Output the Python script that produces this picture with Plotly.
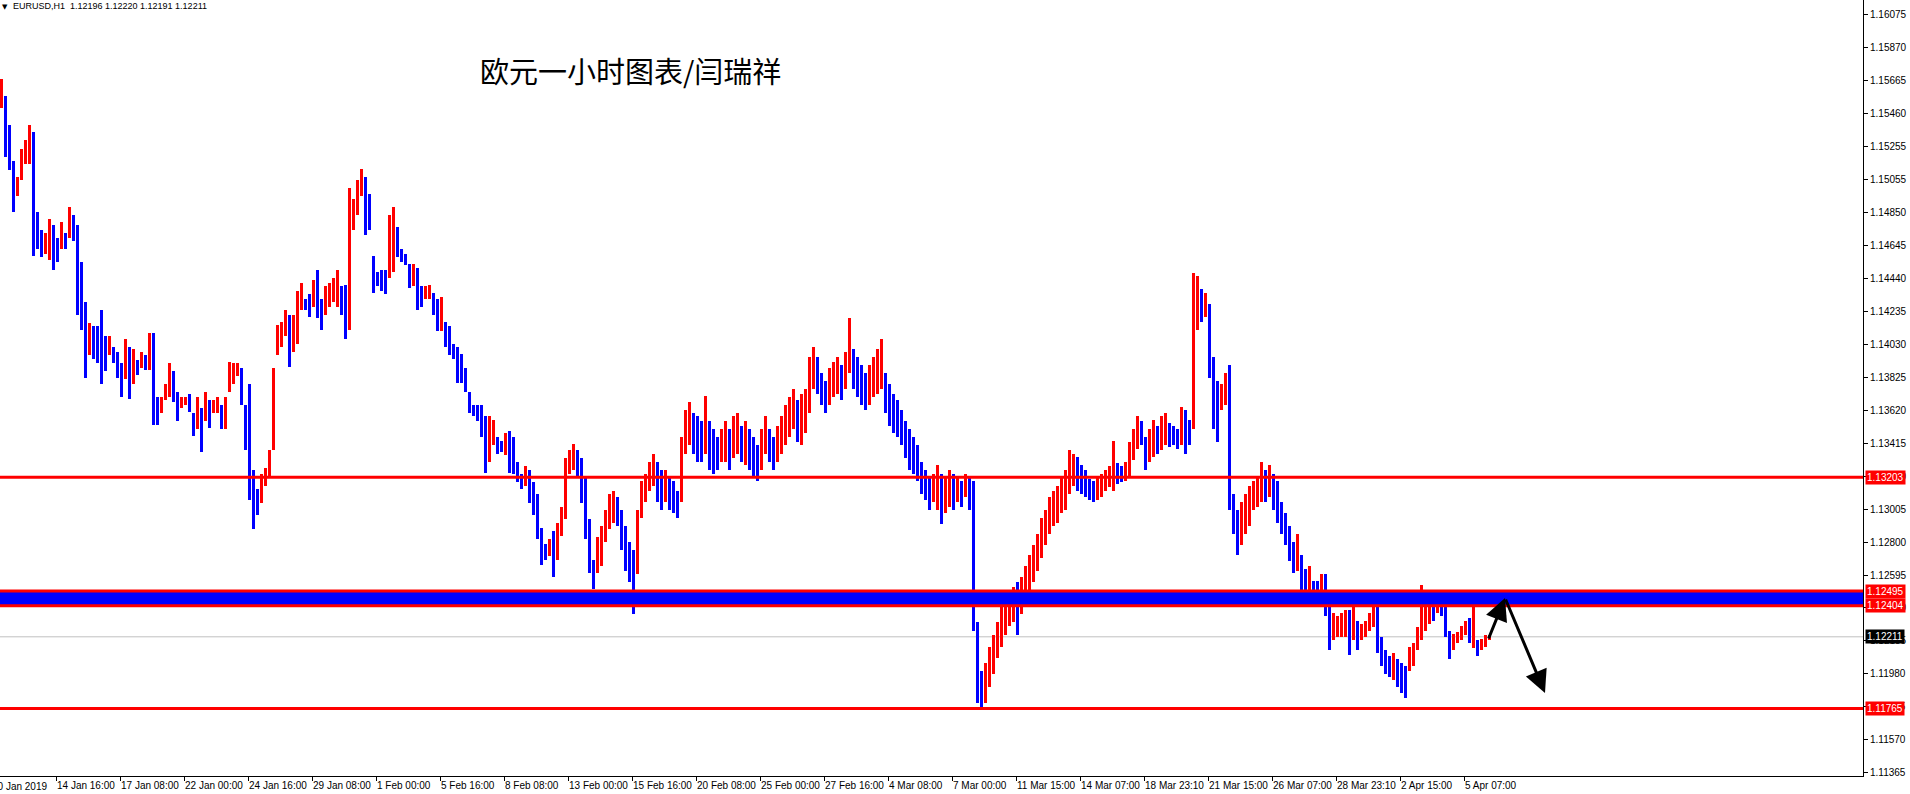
import plotly.graph_objects as go

# ---------------- data ----------------
symbol_header = "EURUSD,H1  1.12196 1.12220 1.12191 1.12211"
title_text = "欧元一小时图表/闫瑞祥"

# 4-hour groups of the H1 bars: highs and lows
highs = [
 1.1568,1.1557,1.1539,1.1517,1.1507,1.1524,1.1530,1.1539,1.1535,1.1485,
 1.1474,1.1472,1.1481,1.1477,1.1469,1.1479,1.1472,1.1488,1.1483,1.1477,
 1.1454,1.1429,1.1416,1.1414,1.1414,1.1424,1.1408,1.1408,1.1401,1.1398,
 1.1391,1.1406,1.1401,1.1400,1.1393,1.1398,1.1396,1.1410,1.1410,1.1370,
 1.1370,1.1378,1.1391,1.1386,1.1373,1.1370,1.1370,1.1372,1.1360,1.1370,
 1.1363,1.1373,1.1368,1.1368,1.1370,1.1365,1.1370,1.1392,1.1391,1.1391,
 1.1388,1.1365,1.1378,1.1325,1.1313,1.1322,1.1326,1.1337,1.1388,1.1415,
 1.1417,1.1424,1.1421,1.1421,1.1436,1.1441,1.1431,1.1434,1.1443,1.1449,
 1.1431,1.1439,1.1441,1.1444,1.1449,1.1439,1.1440,1.1500,1.1493,1.1505,
 1.1512,1.1507,1.1496,1.1458,1.1448,1.1449,1.1449,1.1483,1.1488,1.1476,
 1.1462,1.1459,1.1453,1.1453,1.1450,1.1439,1.1439,1.1440,1.1435,1.1431,
 1.1432,1.1417,1.1414,1.1403,1.1401,1.1397,1.1388,1.1373,1.1365,1.1365,
 1.1365,1.1358,1.1358,1.1356,1.1345,1.1343,1.1348,1.1349,1.1345,1.1330,
 1.1322,1.1327,1.1325,1.1317,1.1310,1.1289,1.1279,1.1282,1.1287,1.1292,
 1.1302,1.1332,1.1337,1.1341,1.1337,1.1332,1.1320,1.1294,1.1269,1.1283,
 1.1290,1.1300,1.1310,1.1312,1.1308,1.1300,1.1290,1.1280,1.1275,1.1300,
 1.1318,1.1322,1.1330,1.1335,1.1330,1.1325,1.1325,1.1320,1.1318,1.1312,
 1.1345,1.1362,1.1367,1.1360,1.1358,1.1355,1.1371,1.1355,1.1350,1.1345,
 1.1350,1.1355,1.1350,1.1358,1.1360,1.1352,1.1355,1.1350,1.1345,1.1340,
 1.1350,1.1358,1.1350,1.1345,1.1352,1.1358,1.1365,1.1370,1.1375,1.1368,
 1.1372,1.1375,1.1395,1.1401,1.1395,1.1385,1.1380,1.1388,1.1392,1.1395,
 1.1390,1.1398,1.1419,1.1400,1.1395,1.1390,1.1385,1.1390,1.1395,1.1400,
 1.1406,1.1385,1.1378,1.1372,1.1368,1.1362,1.1355,1.1350,1.1345,1.1340,
 1.1330,1.1325,1.1320,1.1322,1.1328,1.1322,1.1320,1.1325,1.1322,1.1320,
 1.1318,1.1322,1.1320,1.1318,1.1230,1.1200,1.1205,1.1215,1.1222,1.1230,
 1.1240,1.1245,1.1250,1.1252,1.1255,1.1258,1.1265,1.1272,1.1278,1.1285,
 1.1295,1.1300,1.1308,1.1312,1.1315,1.1320,1.1325,1.1337,1.1335,1.1333,
 1.1328,1.1325,1.1319,1.1318,1.1320,1.1322,1.1325,1.1327,1.1343,1.1329,
 1.1327,1.1330,1.1342,1.1350,1.1358,1.1355,1.1345,1.1350,1.1356,1.1352,
 1.1358,1.1360,1.1354,1.1352,1.1350,1.1364,1.1362,1.1356,1.1447,1.1445,
 1.1437,1.1435,1.1428,1.1395,1.1380,1.1378,1.1385,1.1390,1.1310,1.1300,
 1.1305,1.1310,1.1315,1.1318,1.1320,1.1330,1.1325,1.1328,1.1322,1.1318,
 1.1305,1.1298,1.1290,1.1280,1.1285,1.1272,1.1263,1.1265,1.1256,1.1256,
 1.1260,1.1260,1.1240,1.1236,1.1234,1.1236,1.1238,1.1238,1.1240,1.1231,
 1.1229,1.1231,1.1236,1.1248,1.1246,1.1221,1.1213,1.1209,1.1211,1.1207,
 1.1205,1.1203,1.1215,1.1217,1.1227,1.1253,1.1248,1.1248,1.1244,1.1246,
 1.1247,1.1242,1.1225,1.1223,1.1224,1.1228,1.1231,1.1233,1.1246,1.1219,
 1.1220,1.1222,1.1222,
]
lows = [
 1.1550,1.1519,1.1511,1.1485,1.1495,1.1505,1.1515,1.1515,1.1458,1.1462,
 1.1457,1.1459,1.1455,1.1449,1.1454,1.1462,1.1462,1.1469,1.1467,1.1421,
 1.1412,1.1382,1.1396,1.1394,1.1391,1.1378,1.1386,1.1396,1.1391,1.1382,
 1.1370,1.1381,1.1369,1.1378,1.1384,1.1388,1.1387,1.1387,1.1353,1.1353,
 1.1360,1.1368,1.1370,1.1367,1.1355,1.1363,1.1365,1.1361,1.1346,1.1350,
 1.1336,1.1355,1.1351,1.1360,1.1360,1.1350,1.1350,1.1373,1.1378,1.1383,
 1.1365,1.1337,1.1306,1.1288,1.1297,1.1304,1.1315,1.1320,1.1337,1.1396,
 1.1401,1.1408,1.1389,1.1398,1.1403,1.1424,1.1424,1.1420,1.1426,1.1419,
 1.1412,1.1421,1.1426,1.1429,1.1426,1.1421,1.1406,1.1412,1.1474,1.1483,
 1.1495,1.1471,1.1474,1.1435,1.1439,1.1436,1.1434,1.1444,1.1448,1.1457,
 1.1454,1.1452,1.1438,1.1439,1.1424,1.1426,1.1431,1.1431,1.1421,1.1411,
 1.1411,1.1401,1.1396,1.1394,1.1379,1.1379,1.1373,1.1360,1.1358,1.1355,
 1.1345,1.1323,1.1330,1.1340,1.1335,1.1336,1.1334,1.1323,1.1322,1.1317,
 1.1313,1.1315,1.1304,1.1297,1.1282,1.1266,1.1269,1.1271,1.1258,1.1269,
 1.1284,1.1294,1.1322,1.1325,1.1320,1.1304,1.1282,1.1261,1.1251,1.1261,
 1.1265,1.1280,1.1288,1.1292,1.1290,1.1275,1.1262,1.1255,1.1235,1.1260,
 1.1295,1.1305,1.1312,1.1315,1.1305,1.1300,1.1305,1.1300,1.1298,1.1295,
 1.1305,1.1335,1.1340,1.1335,1.1330,1.1330,1.1335,1.1325,1.1322,1.1325,
 1.1330,1.1330,1.1325,1.1332,1.1335,1.1330,1.1328,1.1325,1.1320,1.1318,
 1.1325,1.1335,1.1330,1.1325,1.1330,1.1335,1.1340,1.1345,1.1350,1.1342,
 1.1340,1.1348,1.1360,1.1375,1.1372,1.1365,1.1360,1.1365,1.1370,1.1372,
 1.1368,1.1375,1.1385,1.1375,1.1370,1.1365,1.1362,1.1365,1.1370,1.1372,
 1.1375,1.1360,1.1352,1.1348,1.1345,1.1340,1.1332,1.1325,1.1322,1.1318,
 1.1310,1.1306,1.1300,1.1305,1.1300,1.1291,1.1298,1.1302,1.1300,1.1305,
 1.1302,1.1308,1.1300,1.1225,1.1180,1.1177,1.1180,1.1190,1.1198,1.1208,
 1.1215,1.1222,1.1228,1.1230,1.1222,1.1235,1.1245,1.1250,1.1255,1.1262,
 1.1270,1.1278,1.1285,1.1290,1.1292,1.1298,1.1300,1.1310,1.1315,1.1312,
 1.1310,1.1308,1.1306,1.1305,1.1306,1.1308,1.1312,1.1314,1.1312,1.1316,
 1.1317,1.1318,1.1320,1.1331,1.1338,1.1340,1.1325,1.1330,1.1333,1.1335,
 1.1337,1.1340,1.1339,1.1340,1.1338,1.1340,1.1335,1.1340,1.1350,1.1412,
 1.1417,1.1420,1.1382,1.1350,1.1342,1.1362,1.1365,1.1300,1.1285,1.1272,
 1.1278,1.1285,1.1290,1.1300,1.1302,1.1305,1.1305,1.1308,1.1300,1.1292,
 1.1285,1.1278,1.1268,1.1261,1.1262,1.1245,1.1244,1.1242,1.1248,1.1246,
 1.1248,1.1234,1.1213,1.1219,1.1221,1.1221,1.1221,1.1210,1.1219,1.1213,
 1.1219,1.1221,1.1225,1.1227,1.1211,1.1203,1.1198,1.1196,1.1194,1.1190,
 1.1186,1.1183,1.1200,1.1203,1.1213,1.1219,1.1225,1.1229,1.1231,1.1236,
 1.1234,1.1221,1.1207,1.1213,1.1217,1.1219,1.1222,1.1217,1.1214,1.1209,
 1.1213,1.1215,1.1219,
]

# horizontal levels drawn on the chart
resistance = 1.13203
band_top = 1.12495
band_bottom = 1.12404
support = 1.11765
last_price = 1.12211

# analyst arrows: (bar index, price) path
arrow_start = (1496, 1.12191)
arrow_peak = (1513, 1.12452)
arrow_end = (1553, 1.11862)

# price-axis ticks
y_ticks = [1.16075, 1.15870, 1.15665, 1.15460, 1.15255, 1.15055, 1.14850,
           1.14645, 1.14440, 1.14235, 1.14030, 1.13825, 1.13620, 1.13415,
           1.13210, 1.13005, 1.12800, 1.12595, 1.12390, 1.12185, 1.11980,
           1.11775, 1.11570, 1.11365]

# time-axis labels (one every 64 H1 bars)
x_labels = ["10 Jan 2019", "14 Jan 16:00", "17 Jan 08:00", "22 Jan 00:00",
            "24 Jan 16:00", "29 Jan 08:00", "1 Feb 00:00", "5 Feb 16:00",
            "8 Feb 08:00", "13 Feb 00:00", "15 Feb 16:00", "20 Feb 08:00",
            "25 Feb 00:00", "27 Feb 16:00", "4 Mar 08:00", "7 Mar 00:00",
            "11 Mar 15:00", "14 Mar 07:00", "18 Mar 23:10", "21 Mar 15:00",
            "26 Mar 07:00", "28 Mar 23:10", "2 Apr 15:00", "5 Apr 07:00"]

# ---------------- layout constants ----------------
W, H = 1910, 794
ML, MR, MT, MB = 0, 47, 0, 18
PLOT_W = W - ML - MR
PLOT_H = H - MT - MB
BARS_PER_LABEL = 64
FIRST_VISIBLE = 8          # first H1 bar index at the left edge
GROUP = 4                  # H1 bars per drawn bar
Y_RANGE = [1.11346, 1.16168]

UP, DOWN = "#FF0000", "#0000FF"
FONT = "Liberation Sans, Arial, sans-serif"

n = len(highs)
xs = [FIRST_VISIBLE + GROUP * k + GROUP / 2 - 0.5 for k in range(n)]
mids = [(h + l) / 2 for h, l in zip(highs, lows)]
colors = [UP if k == 0 or mids[k] >= mids[k - 1] else DOWN for k in range(n)]

fig = go.Figure()
fig.add_trace(go.Bar(
    x=xs, y=[h - l for h, l in zip(highs, lows)], base=lows,
    width=GROUP - 1, marker=dict(color=colors, line=dict(width=0)),
    hoverinfo="skip", showlegend=False,
))

shapes = [
    dict(type="line", xref="paper", x0=0, x1=1, yref="y", y0=last_price, y1=last_price,
         line=dict(color="#C0C0C0", width=1), layer="below"),
    dict(type="rect", xref="paper", x0=0, x1=1, yref="y", y0=band_bottom, y1=band_top,
         fillcolor="#0000FF", line=dict(width=0), layer="above"),
]
for lvl in (resistance, band_top, band_bottom, support):
    shapes.append(dict(type="line", xref="paper", x0=0, x1=1, yref="y", y0=lvl, y1=lvl,
                       line=dict(color="#FF0000", width=3), layer="above"))

annotations = []
for lvl, bg in ((resistance, "#FF0000"), (band_top, "#FF0000"), (band_bottom, "#FF0000"),
                (support, "#FF0000"), (last_price, "#000000")):
    annotations.append(dict(
        xref="paper", x=1, xanchor="left", xshift=2, yref="y", y=lvl, yanchor="middle",
        text=f"{lvl:.5f}", showarrow=False, bgcolor=bg, borderpad=1,
        font=dict(family=FONT, size=10, color="white"),
    ))

# first time label sits left of the visible area (partly cut off)
annotations.append(dict(
    xref="paper", x=(0 - FIRST_VISIBLE) / PLOT_W, xanchor="left", xshift=-2,
    yref="paper", y=0, yanchor="top", yshift=-3, text=x_labels[0], showarrow=False,
    font=dict(family=FONT, size=10, color="black"),
))

# header and title
annotations.append(dict(xref="paper", x=0, xanchor="left", xshift=0, yref="paper", y=1,
                        yanchor="top", yshift=-1, text="▼", showarrow=False,
                        font=dict(family="DejaVu Sans", size=7, color="black")))
annotations.append(dict(xref="paper", x=0, xanchor="left", xshift=11, yref="paper", y=1,
                        yanchor="top", yshift=1, text=symbol_header, showarrow=False,
                        font=dict(family=FONT, size=9, color="black")))
annotations.append(dict(xref="paper", x=630 / PLOT_W, xanchor="center", yref="paper",
                        y=1 - 70 / PLOT_H, yanchor="middle", text=title_text,
                        showarrow=False,
                        font=dict(family="Noto Sans CJK SC", size=29, color="black")))

# analyst arrows
for (x0, y0), (x1, y1) in ((arrow_start, arrow_peak), (arrow_peak, arrow_end)):
    annotations.append(dict(
        xref="x", yref="y", x=x1, y=y1, axref="x", ayref="y", ax=x0, ay=y0,
        text="", showarrow=True, arrowhead=2, arrowsize=1.5, arrowwidth=3,
        arrowcolor="black", standoff=0, startstandoff=0,
    ))

fig.update_layout(
    width=W, height=H, margin=dict(l=ML, r=MR, t=MT, b=MB, pad=0, autoexpand=False),
    paper_bgcolor="white", plot_bgcolor="white",
    shapes=shapes, annotations=annotations, showlegend=False, bargap=0,
    xaxis=dict(
        range=[FIRST_VISIBLE, FIRST_VISIBLE + PLOT_W], automargin=False,
        tickvals=[i * BARS_PER_LABEL for i in range(1, len(x_labels))],
        ticktext=x_labels[1:], ticks="outside", ticklen=4, tickcolor="black",
        ticklabelposition="outside right", tickangle=0,
        showline=True, linecolor="black", linewidth=1, showgrid=False, zeroline=False,
        tickfont=dict(family=FONT, size=10, color="black"), fixedrange=True,
    ),
    yaxis=dict(
        side="right", range=Y_RANGE, tickvals=y_ticks, automargin=False,
        ticktext=[f"{v:.5f}" for v in y_ticks], ticks="outside", ticklen=4,
        tickcolor="black", showline=True, linecolor="black", linewidth=1,
        showgrid=False, zeroline=False,
        tickfont=dict(family=FONT, size=10, color="black"), fixedrange=True,
    ),
)

fig.write_html(
    "out.html",
    config={"displayModeBar": False},
    post_script="document.body.style.margin='0';document.body.style.padding='0';"
                "document.body.style.overflow='hidden';",
)
